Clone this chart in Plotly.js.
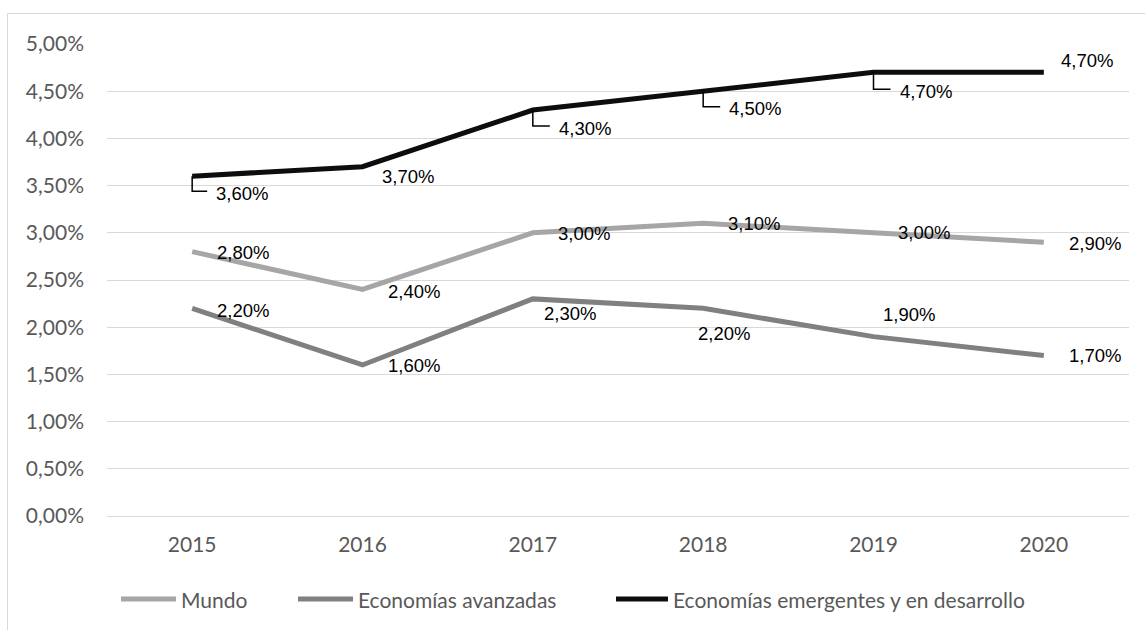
<!DOCTYPE html>
<html>
<head>
<meta charset="utf-8">
<script src="https://cdn.plot.ly/plotly-3.0.1.min.js"></script>
<style>
  html, body { margin: 0; padding: 0; background: #fff; }
  #chart { width: 1145px; height: 630px; }
</style>
</head>
<body>
<div id="chart"></div>
<script>
// ---- Data ----
const years = ['2015', '2016', '2017', '2018', '2019', '2020'];
const seriesNames = ['Mundo', 'Economías avanzadas', 'Economías emergentes y en desarrollo'];
const mundo = [2.8, 2.4, 3.0, 3.1, 3.0, 2.9];
const avanzadas = [2.2, 1.6, 2.3, 2.2, 1.9, 1.7];
const emergentes = [3.6, 3.7, 4.3, 4.5, 4.7, 4.7];
const yTickVals = [0, 0.5, 1, 1.5, 2, 2.5, 3, 3.5, 4, 4.5, 5];

// ---- Styles ----
const colors = ['#a6a6a6', '#808080', '#0d0d0d'];
const values = [mundo, avanzadas, emergentes];

// label offsets (pixels) per series per point: [xshift, yshift, leader]
const labelOffsets = [
  [[23,-1,0],[23,-2,0],[23,-1,0],[23,0,0],[22,0,0],[23,-1,0]],
  [[23,-2,0],[23,-1,0],[9,-15,0],[-7,-25,0],[7,22,0],[23,0,0]],
  [[22,-17,1],[17.5,-10,0],[24,-18,1],[24,-17.6,1],[24,-19,1],[15,12,0]]
];

const fmt = v => v.toFixed(2).replace('.', ',') + '%';

const traces = values.map((vals, i) => ({
  type: 'scatter',
  mode: 'lines',
  x: years,
  y: vals,
  name: seriesNames[i],
  line: { color: colors[i], width: 5 },
  hoverinfo: 'skip',
  showlegend: false
}));

// plot area geometry
const M = { l: 107, r: 16, t: 44, b: 114 };
const W = 1145, H = 630;
const pw = W - M.l - M.r, ph = H - M.t - M.b;
const px2x = px => (px - M.l) / pw;
const py2y = py => (H - M.b - py) / ph;

const annotations = [];
const shapes = [];

values.forEach((vals, i) => {
  vals.forEach((v, j) => {
    const [xs, ys, leader] = labelOffsets[i][j];
    annotations.push({
      xref: 'x', yref: 'y', x: j, y: v,
      text: fmt(v), showarrow: false,
      xanchor: 'left', yanchor: 'middle',
      xshift: xs, yshift: ys,
      font: { family: 'Liberation Sans, Arial, sans-serif', size: 18.5, color: '#000' }
    });
    if (leader) {
      shapes.push({
        type: 'path', xref: 'x', yref: 'y',
        xsizemode: 'pixel', ysizemode: 'pixel',
        xanchor: j, yanchor: v,
        path: 'M0,0 V' + (ys + 2) + ' H' + (xs - 7),
        line: { color: '#000', width: 1.5 },
        layer: 'above'
      });
    }
  });
});

// custom legend
const legendItems = [
  { x0: 121, x1: 176, tx: 179 },
  { x0: 298, x1: 353, tx: 356 },
  { x0: 616, x1: 668, tx: 671 }
];
const legY = 599;
legendItems.forEach((it, i) => {
  shapes.push({
    type: 'line', xref: 'paper', yref: 'paper',
    x0: px2x(it.x0), x1: px2x(it.x1), y0: py2y(legY), y1: py2y(legY),
    line: { color: colors[i], width: 5 }
  });
  annotations.push({
    xref: 'paper', yref: 'paper', x: px2x(it.tx), y: py2y(legY),
    xanchor: 'left', yanchor: 'middle', showarrow: false,
    text: seriesNames[i],
    font: { family: 'Lato, sans-serif', size: 21, color: '#595959' }
  });
});

// outer border
shapes.push({
  type: 'rect', xref: 'paper', yref: 'paper',
  x0: px2x(7.5), x1: px2x(1160), y0: py2y(660), y1: py2y(13.5),
  line: { color: '#d9d9d9', width: 1 }, fillcolor: 'rgba(0,0,0,0)', layer: 'below'
});

const layout = {
  width: W, height: H,
  margin: M,
  paper_bgcolor: '#fff', plot_bgcolor: '#fff',
  separators: ',.',
  showlegend: false,
  font: { family: 'Lato, sans-serif', size: 21, color: '#595959' },
  xaxis: {
    type: 'category',
    range: [-0.5, 5.5],
    showgrid: false,
    showline: false,
    zeroline: false,
    ticks: '',
    ticklabelstandoff: 14,
    tickfont: { family: 'Lato, sans-serif', size: 21, color: '#595959' },
    fixedrange: true
  },
  yaxis: {
    range: [0, 5],
    tickmode: 'array',
    tickvals: yTickVals,
    ticktext: yTickVals.map(fmt),
    showgrid: true,
    gridcolor: '#d9d9d9',
    gridwidth: 1,
    zeroline: true,
    zerolinecolor: '#d9d9d9',
    zerolinewidth: 1,
    showline: false,
    ticks: '',
    ticklabelstandoff: 22,
    tickfont: { family: 'Lato, sans-serif', size: 21, color: '#595959' },
    fixedrange: true
  },
  annotations: annotations,
  shapes: shapes
};

Plotly.newPlot('chart', traces, layout, { displayModeBar: false, staticPlot: true });
</script>
</body>
</html>
